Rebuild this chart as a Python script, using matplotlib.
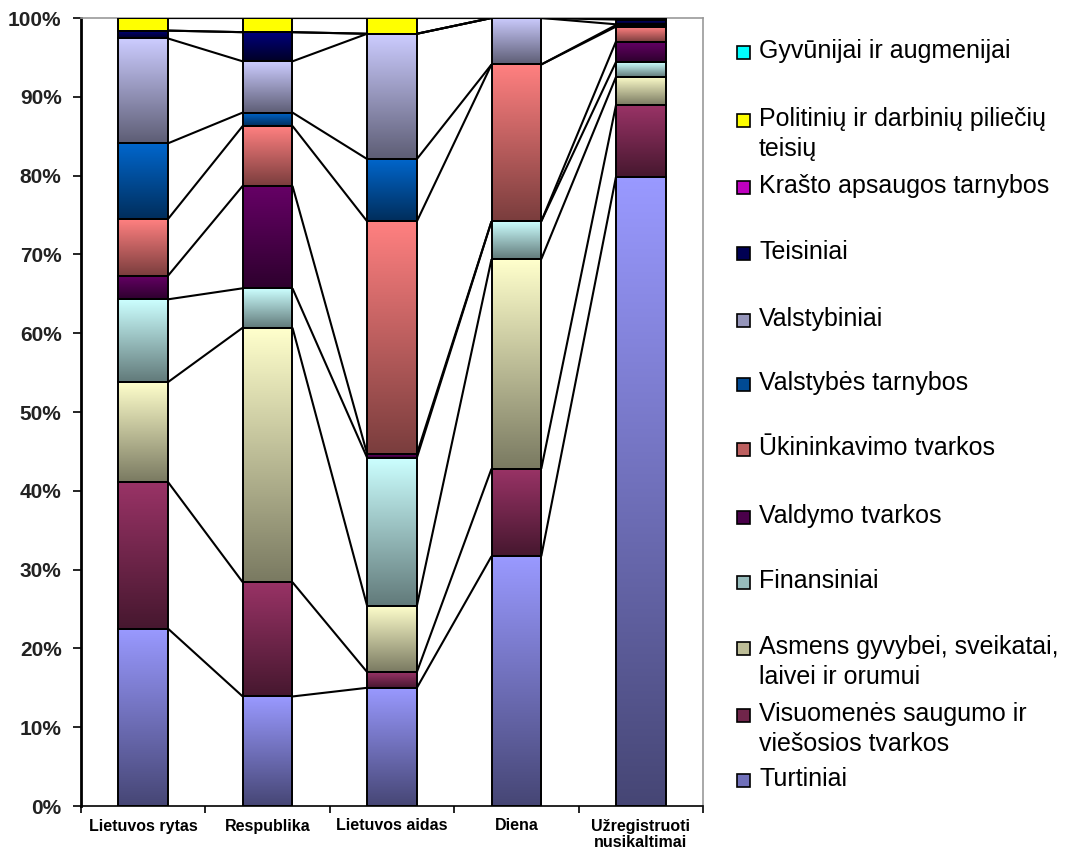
import numpy as np
import matplotlib
matplotlib.use("Agg")
import matplotlib.pyplot as plt
from matplotlib.patches import Rectangle
from matplotlib.colors import to_rgb

plt.rcParams['font.family'] = ['Liberation Sans', 'DejaVu Sans']

categories = ["Lietuvos rytas", "Respublika", "Lietuvos aidas", "Diena",
              "Užregistruoti\nnusikaltimai"]

# series, bottom to top (percent)
series_names = [
    "Turtiniai",
    "Visuomenės saugumo ir\nviešosios tvarkos",
    "Asmens gyvybei, sveikatai,\nlaivei ir orumui",
    "Finansiniai",
    "Valdymo tvarkos",
    "Ūkininkavimo tvarkos",
    "Valstybės tarnybos",
    "Valstybiniai",
    "Teisiniai",
    "Krašto apsaugos tarnybos",
    "Politinių ir darbinių piliečių\nteisių",
    "Gyvūnijai ir augmenijai",
]
turtiniai      = [22.5, 13.9, 15.0, 31.7, 79.8]
visuomenes     = [18.6, 14.5,  2.0, 11.1,  9.1]
asmens         = [12.7, 32.3,  8.4, 26.6,  3.6]
finansiniai    = [10.5,  5.0, 18.8,  4.8,  1.9]
valdymo        = [ 3.0, 13.0,  0.5,  0.0,  2.6]
ukininkavimo   = [ 7.2,  7.6, 29.5, 19.9,  1.9]
valst_tarnybos = [ 9.6,  1.7,  7.9,  0.0,  0.2]
valstybiniai   = [13.3,  6.5, 15.9,  5.9,  0.1]
teisiniai      = [ 1.0,  3.7,  0.0,  0.0,  0.6]
krasto         = [ 0.0,  0.0,  0.0,  0.0,  0.2]
politiniu      = [ 1.6,  1.8,  2.0,  0.0,  0.0]
gyvunijai      = [ 0.0,  0.0,  0.0,  0.0,  0.0]

series_values = [turtiniai, visuomenes, asmens, finansiniai, valdymo, ukininkavimo,
                 valst_tarnybos, valstybiniai, teisiniai, krasto, politiniu, gyvunijai]
series_colors = ["#9999FF", "#993366", "#FFFFCC", "#CCFFFF", "#660066", "#FF8080",
                 "#0066CC", "#CCCCFF", "#000080", "#FF00FF", "#FFFF00", "#00FFFF"]
dark_factor = [0.46, 0.46, 0.48, 0.48, 0.45, 0.48, 0.45, 0.46, 0.3, 0.5, 1.0, 1.0]
ytick_labels = ["0%", "10%", "20%", "30%", "40%", "50%", "60%", "70%", "80%", "90%", "100%"]

W, H = 1078, 850
fig = plt.figure(figsize=(W / 100, H / 100), dpi=100)
ax = fig.add_axes([81 / W, (H - 806) / H, (703 - 81) / W, (806 - 18) / H])

x = np.arange(len(categories))
bw = 0.40
data = np.array(series_values, dtype=float)
totals = data.sum(axis=0)
frac = data / totals
bottoms = np.zeros(len(categories))
tops_all = []
for s in range(len(series_values)):
    vals = frac[s]
    bars = ax.bar(x, vals, bw, bottom=bottoms, color='none', edgecolor='black',
                  linewidth=1.4, zorder=3)
    base = np.array(to_rgb(series_colors[s]))
    dark = base * dark_factor[s]
    t = np.linspace(0, 1, 64)[:, None, None]
    grad = base[None, None, :] * (1 - t) + dark[None, None, :] * t
    for p, v in zip(bars.patches, vals):
        if v <= 0:
            continue
        x0, y0 = p.get_x(), p.get_y()
        ax.imshow(grad, extent=[x0, x0 + p.get_width(), y0, y0 + p.get_height()],
                  origin='upper', aspect='auto', zorder=2, interpolation='bilinear')
    bottoms = bottoms + vals
    tops_all.append(bottoms.copy())

# series lines
for tops in tops_all:
    for i in range(len(categories) - 1):
        ax.plot([x[i] + bw / 2, x[i + 1] - bw / 2], [tops[i], tops[i + 1]],
                color='black', lw=1.5, zorder=4, solid_capstyle='butt')

ax.set_xlim(-0.5, len(categories) - 0.5)
ax.set_ylim(0, 1)
ax.set_yticks(np.linspace(0, 1, 11))
ax.set_yticklabels(ytick_labels, fontsize=15, fontweight='bold', color='#222222')
ax.set_xticks(x)
ax.set_xticklabels(categories, fontsize=11.5, fontweight='bold', linespacing=1.1)
ax.set_xticks(np.arange(-0.5, len(categories)), minor=True)
ax.tick_params(axis='x', which='major', length=0, pad=9)
ax.tick_params(axis='x', which='minor', length=5, width=1.2, direction='out')
ax.tick_params(axis='y', length=6, width=1.2, direction='out', pad=8)
ax.spines['left'].set_linewidth(2)
ax.spines['bottom'].set_linewidth(1.2)
for sp in ('top', 'right'):
    ax.spines[sp].set_color('#999999')
    ax.spines[sp].set_linewidth(1.2)

# legend (top to bottom)
legend_y = [52, 120, 187, 253, 320, 384, 449, 517, 582, 648, 715, 780]
for k, yk in enumerate(legend_y):
    s = len(series_names) - 1 - k
    base = np.array(to_rgb(series_colors[s]))
    mid = base * (1 + dark_factor[s]) / 2
    fig.patches.append(Rectangle((737 / W, (H - yk - 7) / H), 13 / W, 13 / H,
                                 transform=fig.transFigure, facecolor=mid,
                                 edgecolor='black', lw=1.2))
    fig.text(759 / W, (H - yk + 13) / H, series_names[s], fontsize=18, va='top',
             ha='left', linespacing=1.3, transform=fig.transFigure)

fig.savefig("out.png", dpi=100)
